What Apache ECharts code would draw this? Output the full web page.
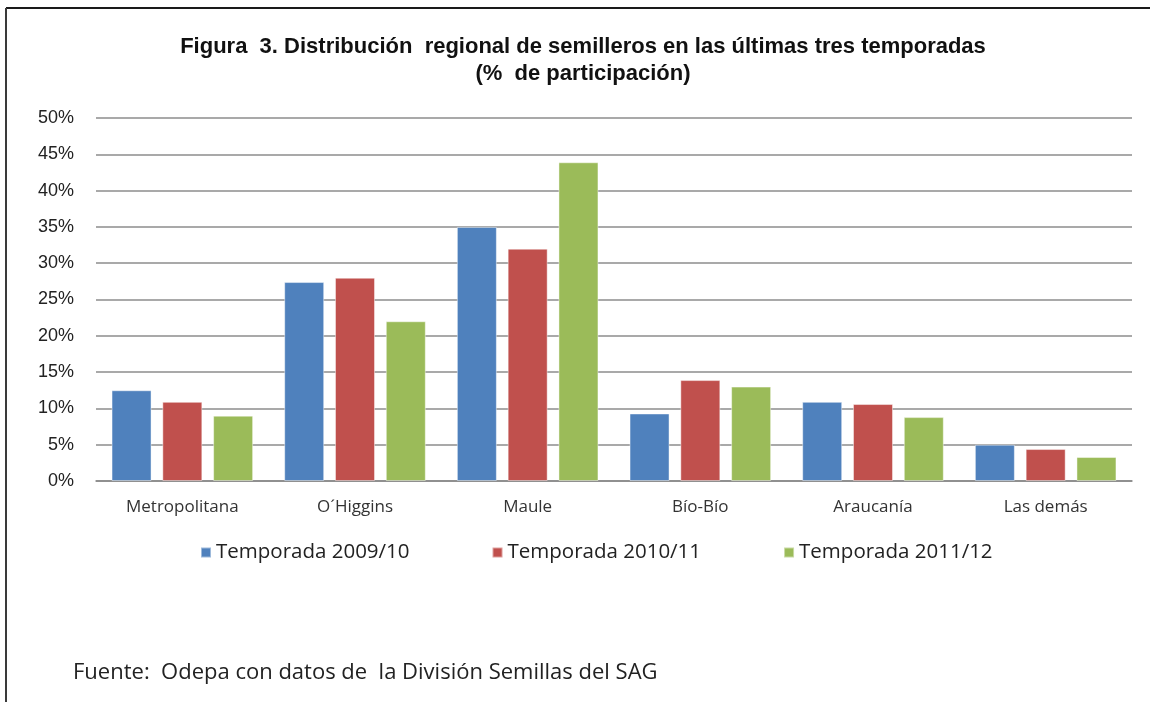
<!DOCTYPE html>
<html>
<head>
<meta charset="utf-8">
<script src="https://cdn.jsdelivr.net/npm/echarts@6/dist/echarts.min.js"></script>
<style>
html,body{margin:0;padding:0;background:#fff;}
#chart{width:1150px;height:702px;}
</style>
</head>
<body>
<div id="chart"></div>
<script>
const categories = ['Metropolitana', 'O´Higgins', 'Maule', 'Bío-Bío', 'Araucanía', 'Las demás'];
const seriesNames = ['Temporada 2009/10', 'Temporada 2010/11', 'Temporada 2011/12'];
const s2009 = [12.5, 27.4, 35.0, 9.3, 10.9, 5.0];
const s2010 = [10.9, 28.0, 32.0, 13.9, 10.6, 4.4];
const s2011 = [9.0, 22.0, 43.9, 13.0, 8.8, 3.3];
const colors = ['#4F81BD', '#C0504D', '#9BBB59'];
const titleText = 'Figura  3. Distribución  regional de semilleros en las últimas tres temporadas\n(%  de participación)';
const sourceText = 'Fuente:  Odepa con datos de  la División Semillas del SAG';

const chart = echarts.init(document.getElementById('chart'));
const values = [s2009, s2010, s2011];
chart.setOption({
  animation: false,
  backgroundColor: '#ffffff',
  title: {
    text: titleText,
    left: 578,
    textAlign: 'center',
    top: 28,
    textStyle: {
      fontFamily: '"Liberation Sans Narrow", "Arial Narrow", "Liberation Sans", sans-serif',
      fontWeight: 'bold',
      fontSize: 22,
      lineHeight: 27,
      color: '#111'
    }
  },
  grid: { left: 96, right: 18, top: 118, bottom: 221 },
  legend: {
    left: 195,
    top: 537,
    itemWidth: 10,
    itemHeight: 10,
    itemGap: 82,
    icon: 'rect',
    textStyle: { fontFamily: '"Open Sans", sans-serif', fontSize: 20.5, color: '#222' },
    data: seriesNames
  },
  xAxis: {
    type: 'category',
    data: categories,
    axisLine: { lineStyle: { color: '#888', width: 1.5 } },
    axisTick: { show: false },
    axisLabel: { margin: 18, fontFamily: '"Open Sans", sans-serif', fontSize: 17, color: '#333' }
  },
  yAxis: {
    type: 'value',
    min: 0,
    max: 50,
    interval: 5,
    axisLine: { show: false },
    axisTick: { show: false },
    splitLine: { lineStyle: { color: '#8c8c8c', width: 1.5 } },
    axisLabel: {
      formatter: '{value}%',
      margin: 22,
      fontFamily: '"Liberation Sans", Arial, sans-serif',
      fontSize: 18,
      color: '#222'
    }
  },
  series: values.map((v, i) => ({
    name: seriesNames[i],
    type: 'bar',
    data: v,
    barWidth: 40,
    barGap: '27%',
    itemStyle: { color: colors[i], borderColor: 'rgba(255,255,255,0.45)', borderWidth: 1 }
  })),
  graphic: [
    { type: 'line', shape: { x1: 6, y1: 8, x2: 1150, y2: 8 }, style: { stroke: '#1a1a1a', lineWidth: 2 } },
    { type: 'line', shape: { x1: 6, y1: 8, x2: 6, y2: 702 }, style: { stroke: '#3a3a3a', lineWidth: 2 } },
    {
      type: 'text', left: 73, top: 662,
      style: { text: sourceText, font: '22px "Open Sans", sans-serif', fill: '#222' }
    }
  ]
});
</script>
</body>
</html>
